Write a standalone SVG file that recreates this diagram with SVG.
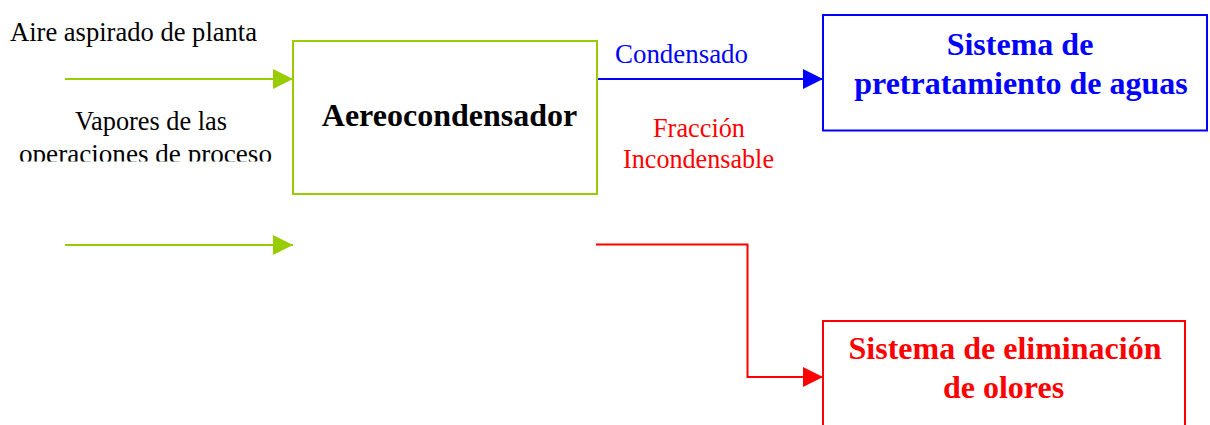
<svg xmlns="http://www.w3.org/2000/svg" width="1210" height="425" viewBox="0 0 1210 425">
<style>
text{font-family:'Liberation Serif',serif}
.lbl{font-size:26.5px}
.ttl{font-size:32px;font-weight:bold;text-anchor:middle}
.g{stroke:#99cc00;stroke-width:2;fill:none}
.b{stroke:#0000ff;stroke-width:2;fill:none}
.r{stroke:#ff0000;stroke-width:2;fill:none}
</style>
<defs>
<clipPath id="clipOp"><rect x="0" y="140" width="290" height="21.5"/></clipPath>
<marker id="ag" viewBox="0 0 20 20" refX="20" refY="10" markerWidth="20" markerHeight="20" markerUnits="userSpaceOnUse" orient="auto"><path d="M0,0 L20,10 L0,20 Z" fill="#99cc00"/></marker>
<marker id="ab" viewBox="0 0 20 20" refX="20" refY="10" markerWidth="20" markerHeight="20" markerUnits="userSpaceOnUse" orient="auto"><path d="M0,0 L20,10 L0,20 Z" fill="#0000ff"/></marker>
<marker id="ar" viewBox="0 0 20 20" refX="20" refY="10" markerWidth="20" markerHeight="20" markerUnits="userSpaceOnUse" orient="auto"><path d="M0,0 L20,10 L0,20 Z" fill="#ff0000"/></marker>
</defs>
<rect width="1210" height="425" fill="#ffffff"/>
<g id="connectors">
<path class="g" d="M65,79 L293,79" marker-end="url(#ag)"/>
<path class="g" d="M65,245 L293,245" marker-end="url(#ag)"/>
<path class="b" d="M598,79 L823,79" marker-end="url(#ab)"/>
<path class="r" d="M596,244.5 L747.5,244.5 L747.5,377 L823,377" marker-end="url(#ar)"/>
</g>
<g id="labels">
<text class="lbl" font-family="Liberation Serif" x="10" y="41" textLength="247" lengthAdjust="spacingAndGlyphs">Aire aspirado de planta</text>
<text class="lbl" font-family="Liberation Serif" x="75" y="130" textLength="152" lengthAdjust="spacingAndGlyphs">Vapores de las</text>
<text class="lbl" font-family="Liberation Serif" x="19" y="163" textLength="253" lengthAdjust="spacingAndGlyphs" clip-path="url(#clipOp)">operaciones de proceso</text>
<text class="lbl" font-family="Liberation Serif" x="615" y="62.5" fill="#0000ff" textLength="133" lengthAdjust="spacingAndGlyphs">Condensado</text>
<text class="lbl" font-family="Liberation Serif" x="653" y="137" fill="#ff0000" textLength="92" lengthAdjust="spacingAndGlyphs">Fracción</text>
<text class="lbl" font-family="Liberation Serif" x="623" y="168" fill="#ff0000" textLength="151" lengthAdjust="spacingAndGlyphs">Incondensable</text>
</g>
<g id="aereocondensador">
<rect x="293" y="41" width="304" height="153" class="g"/>
<text class="ttl" font-family="Liberation Serif" x="449.5" y="126">Aereocondensador</text>
</g>
<g id="pretratamiento">
<rect x="823" y="15" width="384" height="115.5" class="b"/>
<text class="ttl" font-family="Liberation Serif" x="1020" y="55" fill="#0000ff">Sistema de</text>
<text class="ttl" font-family="Liberation Serif" x="1021" y="94" fill="#0000ff">pretratamiento de aguas</text>
</g>
<g id="olores">
<rect x="823" y="321" width="362" height="120" class="r"/>
<text class="ttl" font-family="Liberation Serif" x="1005" y="359" fill="#ff0000">Sistema de eliminación</text>
<text class="ttl" font-family="Liberation Serif" x="1003.5" y="398" fill="#ff0000">de olores</text>
</g>
</svg>
